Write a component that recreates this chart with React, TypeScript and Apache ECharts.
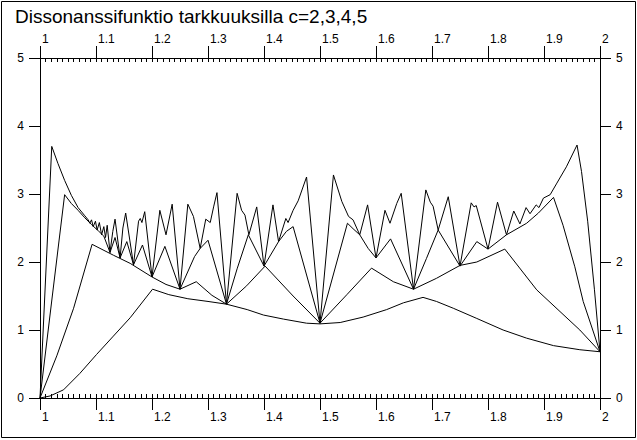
import React, { useEffect, useRef } from 'react';
import * as echarts from 'echarts';

const TITLE = 'Dissonanssifunktio tarkkuuksilla c=2,3,4,5';

const xRange = [1, 2];
const xStep = 0.1;
const yRange = [0, 5];
const yStep = 1;

const c2Points: [number, number][] = [
  [1.000, 0.00], [1.018, 0.03], [1.042, 0.12], [1.071, 0.36], [1.101, 0.64], [1.131, 0.91],
  [1.161, 1.18], [1.201, 1.60], [1.230, 1.52], [1.264, 1.46], [1.300, 1.42], [1.333, 1.38],
  [1.370, 1.30], [1.399, 1.22], [1.435, 1.16], [1.476, 1.10], [1.500, 1.09], [1.536, 1.11],
  [1.577, 1.19], [1.619, 1.30], [1.649, 1.40], [1.684, 1.48], [1.708, 1.42], [1.738, 1.32],
  [1.780, 1.17], [1.827, 1.00], [1.869, 0.88], [1.917, 0.77], [1.964, 0.71], [2.000, 0.68],
];

const c3Points: [number, number][] = [
  [1.000, 0.00], [1.030, 0.62], [1.060, 1.32], [1.093, 2.26], [1.131, 2.10], [1.161, 1.98],
  [1.200, 1.78], [1.225, 1.67], [1.250, 1.60], [1.279, 1.71], [1.307, 1.51], [1.333, 1.38],
  [1.369, 1.65], [1.402, 1.94], [1.452, 1.50], [1.500, 1.10], [1.548, 1.52], [1.592, 1.91],
  [1.631, 1.71], [1.667, 1.60], [1.708, 1.76], [1.750, 1.95], [1.780, 2.00], [1.830, 2.19],
  [1.887, 1.59], [1.964, 1.00], [2.000, 0.68],
];

const c4Points: [number, number][] = [
  [1.000, 0.00], [1.022, 1.50], [1.044, 2.99], [1.056, 2.86], [1.068, 2.76], [1.080, 2.65],
  [1.092, 2.55], [1.104, 2.46], [1.114, 2.38], [1.125, 2.14], [1.134, 2.36], [1.143, 2.06],
  [1.155, 2.30], [1.167, 1.96], [1.183, 2.25], [1.200, 1.78], [1.223, 2.23], [1.250, 1.60],
  [1.276, 2.08], [1.286, 2.20], [1.300, 2.32], [1.333, 1.38], [1.352, 1.90], [1.372, 2.40],
  [1.400, 1.94], [1.426, 2.30], [1.440, 2.45], [1.452, 2.52], [1.500, 1.10], [1.549, 2.57],
  [1.559, 2.49], [1.571, 2.40], [1.586, 2.20], [1.600, 2.06], [1.626, 2.34], [1.667, 1.60],
  [1.690, 2.05], [1.711, 2.47], [1.750, 1.94], [1.780, 2.30], [1.800, 2.19], [1.833, 2.40],
  [1.869, 2.57], [1.890, 2.72], [1.917, 2.95], [1.934, 2.54], [1.955, 1.93], [1.970, 1.42],
  [2.000, 0.68],
];

const c5Points: [number, number][] = [
  [1.000, 0.00], [1.021, 3.70], [1.032, 3.45], [1.044, 3.20], [1.056, 2.98], [1.068, 2.80],
  [1.080, 2.68], [1.086, 2.62], [1.089, 2.57], [1.092, 2.62], [1.095, 2.52], [1.099, 2.60],
  [1.102, 2.47], [1.106, 2.58], [1.110, 2.40], [1.114, 2.52], [1.117, 2.36], [1.120, 2.54],
  [1.125, 2.14], [1.130, 2.45], [1.134, 2.63], [1.143, 2.06], [1.148, 2.50], [1.153, 2.72],
  [1.167, 1.96], [1.176, 2.60], [1.179, 2.64], [1.182, 2.58], [1.187, 2.74], [1.200, 1.78],
  [1.214, 2.76], [1.225, 2.40], [1.236, 2.85], [1.250, 1.60], [1.264, 2.85], [1.274, 2.67],
  [1.286, 2.20], [1.296, 2.63], [1.304, 2.58], [1.310, 2.81], [1.316, 3.02], [1.333, 1.38],
  [1.352, 3.01], [1.360, 2.76], [1.366, 2.69], [1.373, 2.40], [1.387, 2.81], [1.400, 1.94],
  [1.416, 2.84], [1.426, 2.30], [1.439, 2.64], [1.443, 2.58], [1.452, 2.76], [1.461, 2.90],
  [1.476, 3.25], [1.500, 1.10], [1.524, 3.28], [1.539, 2.89], [1.551, 2.67], [1.559, 2.62],
  [1.571, 2.40], [1.585, 2.84], [1.600, 2.06], [1.616, 2.76], [1.625, 2.57], [1.637, 2.86],
  [1.645, 3.01], [1.667, 1.60], [1.689, 3.06], [1.697, 2.88], [1.702, 2.82], [1.711, 2.47],
  [1.729, 2.96], [1.750, 1.94], [1.770, 2.87], [1.775, 2.81], [1.779, 2.83], [1.800, 2.19],
  [1.817, 2.88], [1.833, 2.40], [1.846, 2.75], [1.857, 2.56], [1.868, 2.80], [1.875, 2.71],
  [1.886, 2.84], [1.891, 2.80], [1.899, 2.94], [1.911, 2.99], [1.923, 3.16], [1.940, 3.40],
  [1.959, 3.72], [1.967, 3.33], [1.978, 2.60], [1.990, 1.60], [2.000, 0.68],
];

const FONT = 'Liberation Sans, Arial, Helvetica, sans-serif';
const BLACK = '#000';

const fmtX = (v: number) => String(+v.toFixed(1));

function xAxisPair(position: 'top' | 'bottom') {
  const base = {
    type: 'value',
    position,
    min: xRange[0],
    max: xRange[1],
    interval: xStep,
    splitLine: { show: false },
    axisLine: { show: true, lineStyle: { color: BLACK, width: 1 } },
  };
  return [
    {
      ...base,
      axisTick: { show: true, inside: false, length: 12, lineStyle: { color: BLACK, width: 1 } },
      axisLabel: {
        show: true,
        margin: 13,
        align: 'left',
        padding: [0, 0, 0, 2],
        formatter: fmtX,
        color: BLACK,
        fontSize: 12,
        fontFamily: FONT,
        showMinLabel: true,
        showMaxLabel: true,
      },
    },
    {
      ...base,
      axisTick: { show: true, inside: true, length: 4, lineStyle: { color: BLACK, width: 1 } },
      minorTick: { show: true, splitNumber: 10, length: 4, lineStyle: { color: BLACK, width: 1 } },
      axisLabel: { show: false },
    },
  ];
}

function yAxis(position: 'left' | 'right') {
  return {
    type: 'value',
    position,
    min: yRange[0],
    max: yRange[1],
    interval: yStep,
    splitLine: { show: false },
    axisLine: { show: true, lineStyle: { color: BLACK, width: 1 } },
    axisTick: { show: true, inside: false, length: 11, lineStyle: { color: BLACK, width: 1 } },
    axisLabel: { show: true, margin: 16, color: BLACK, fontSize: 12, fontFamily: FONT },
  };
}

function lineSeries(name: string, data: [number, number][]) {
  return {
    name,
    type: 'line',
    data,
    xAxisIndex: 0,
    yAxisIndex: 0,
    showSymbol: false,
    symbol: 'none',
    smooth: false,
    lineStyle: { color: BLACK, width: 1 },
    emphasis: { disabled: true },
  };
}

export default function App() {
  const ref = useRef<HTMLDivElement>(null);
  useEffect(() => {
    if (!ref.current) return;
    const chart = echarts.init(ref.current, null, { renderer: 'svg' });
    const option = {
      animation: false,
      backgroundColor: '#fff',
      title: {
        text: TITLE,
        left: 15,
        top: 7,
        padding: 0,
        textStyle: { fontFamily: FONT, fontSize: 19, fontWeight: 'normal', color: BLACK },
      },
      grid: { left: 40, right: 37, top: 58, bottom: 42 },
      xAxis: [...xAxisPair('bottom'), ...xAxisPair('top')],
      yAxis: [yAxis('left'), yAxis('right')],
      graphic: [
        {
          type: 'rect',
          shape: { x: 1.5, y: 1.5, width: 634, height: 436 },
          style: { fill: 'none', stroke: BLACK, lineWidth: 1 },
          silent: true,
        },
      ],
      series: [
        lineSeries('c=2', c2Points),
        lineSeries('c=3', c3Points),
        lineSeries('c=4', c4Points),
        lineSeries('c=5', c5Points),
      ],
    };
    chart.setOption(option as any);
    return () => chart.dispose();
  }, []);
  return (
    <div
      ref={ref}
      style={{ position: 'absolute', left: 0, top: 0, width: 637, height: 440 }}
    />
  );
}
